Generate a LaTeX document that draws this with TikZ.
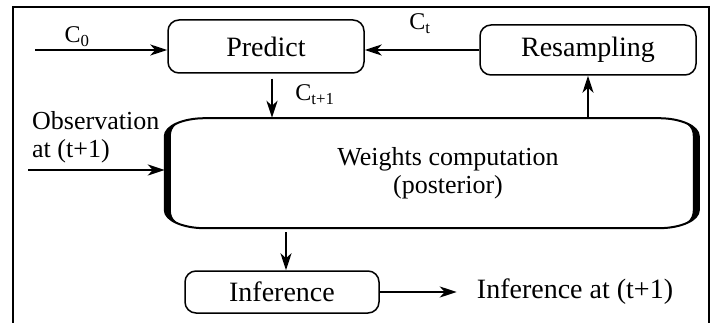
\documentclass[tikz,border=0pt]{standalone}
\usepackage{fontspec}
\setmainfont{Liberation Serif}
\usetikzlibrary{positioning}
\usetikzlibrary{arrows.meta}
\tikzset{box/.style={draw, rounded corners=11pt, line width=1.5pt, font=\fontsize{28}{32}\selectfont}}
\tikzset{flow/.style={-{Stealth[length=17pt,width=11pt,inset=5pt]}, line width=2.4pt}}
\tikzset{lab/.style={font=\fontsize{24}{28}\selectfont, inner sep=0pt}}

\begin{document}
\begin{tikzpicture}[x=1pt, y=1pt, node distance=20pt and 20pt]
\useasboundingbox (0,0) rectangle (716,322);
\draw[line width=2.5pt] (13,-5) -- (13,315) -- (709,315) -- (709,-5);

\node[box, minimum width=196pt, minimum height=53pt] (predict) at (266,275.5) {Predict};
\node[box, minimum width=216pt, minimum height=50pt] (resamp) at (588,272) {Resampling};
\node[minimum width=534pt, minimum height=110pt, inner sep=0pt,
  label={[align=center, font=\fontsize{26}{28}\selectfont, xshift=16pt]center:Weights computation\\(posterior)}] (weights) at (432,149) {};
\node[box, minimum width=194pt, minimum height=42pt] (infer) at (282,30) {Inference};

% outline of the weights box, thick on both sides
\begin{scope}[shift={(weights.south west)}]
\draw[line width=2pt] (40,110) -- (494,110) arc[start angle=90, end angle=0, x radius=40, y radius=18]
  -- (534,18) arc[start angle=0, end angle=-90, x radius=40, y radius=18]
  -- (40,0) arc[start angle=270, end angle=180, x radius=40, y radius=18]
  -- (0,92) arc[start angle=180, end angle=90, x radius=40, y radius=18] -- cycle;
\fill (26.3,108.9) arc[start angle=110, end angle=180, x radius=40, y radius=18]
  -- (0,18) arc[start angle=180, end angle=250, x radius=40, y radius=18]
  .. controls (13,3) and (6,8) .. (6,18) -- (6,92) .. controls (6,102) and (13,107) .. cycle;
\fill (507.7,108.9) arc[start angle=70, end angle=0, x radius=40, y radius=18]
  -- (534,18) arc[start angle=0, end angle=-70, x radius=40, y radius=18]
  .. controls (521,3) and (528,8) .. (528,18) -- (528,92) .. controls (528,102) and (521,107) .. cycle;
\end{scope}

\coordinate (c0) at (35,272);
\coordinate (obs) at (28,152);
\coordinate[right=77pt of infer.east] (out);

\node[lab] (c0lab) at (77,285) {C\textsubscript{0}};
\node[lab] (ctlab) at (420,298) {C\textsubscript{t}};
\node[lab] (ct1lab) at (315,227) {C\textsubscript{t+1}};
\node[align=left, anchor=north west, inner sep=0pt, font=\fontsize{26}{28}\selectfont] (obslab) at (32,211) {Observation\\at (t+1)};
\node[right=20pt of out, inner sep=0pt, font=\fontsize{28}{32}\selectfont] (outlab) {Inference at (t+1)};

\draw[flow] (c0) -- (c0 -| predict.west);
\draw[flow] (resamp.west) -- (resamp.west -| predict.east);
\draw[flow, shorten <=5pt] ([xshift=6pt]predict.south) -- ([xshift=6pt]predict.south |- weights.north);
\draw[flow] (weights.north -| resamp.south) -- (resamp.south);
\draw[flow] (obs) -- (obs -| weights.west);
\draw[flow, shorten <=4pt] ([xshift=4pt]infer.north |- weights.south) -- ([xshift=4pt]infer.north);
\draw[flow] (infer.east) -- (out);
\end{tikzpicture}
\end{document}
